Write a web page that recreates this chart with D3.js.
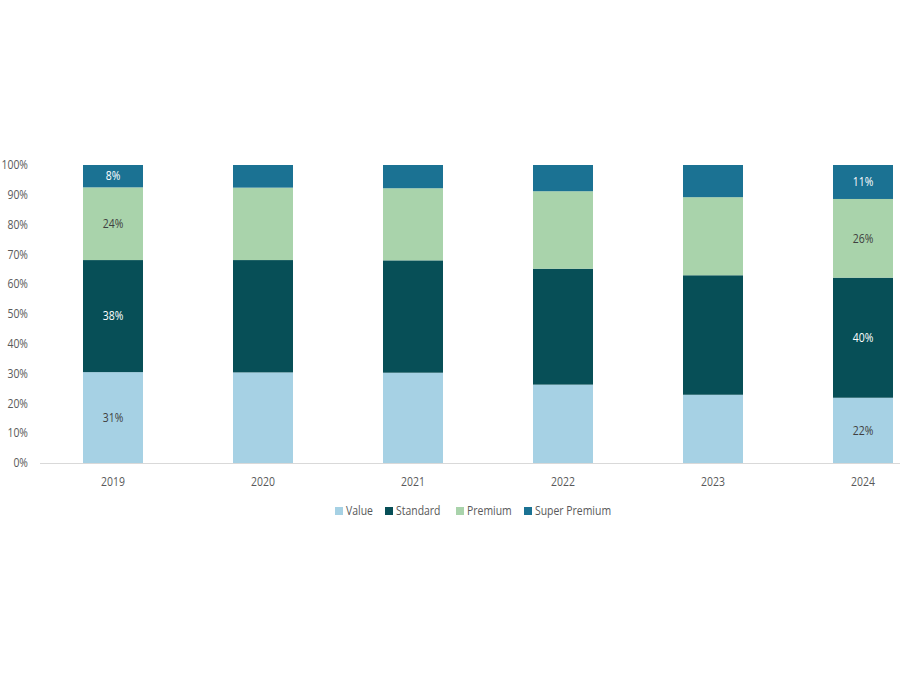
<!DOCTYPE html>
<html>
<head>
<meta charset="utf-8">
<script src="https://cdn.jsdelivr.net/npm/d3@7"></script>
<style>
  body { margin: 0; background: #fff; }
  svg { font-family: "Open Sans", sans-serif; }
</style>
</head>
<body>
<svg></svg>
<script>
const years = ["2019", "2020", "2021", "2022", "2023", "2024"]
const segments = ["Value", "Standard", "Premium", "Super Premium"]
const value = [30.5, 30.4, 30.3, 26.3, 22.9, 21.9]
const standard = [37.6, 37.7, 37.7, 38.9, 40.1, 40.3]
const premium = [24.4, 24.3, 24.2, 26.0, 26.2, 26.4]
const superPremium = [7.5, 7.6, 7.8, 8.8, 10.8, 11.4]
const labelledYears = ["2019", "2024"]
const yTicks = [0, 10, 20, 30, 40, 50, 60, 70, 80, 90, 100]

const width = 900
const height = 675
const squeeze = 0.87  // the text in the original is a bit narrower

const colors = {
  "Value": "#a6d1e4",
  "Standard": "#074f57",
  "Premium": "#a9d3ab",
  "Super Premium": "#1b7293"
}
const labelColors = {
  "Value": "#404040",
  "Standard": "#ffffff",
  "Premium": "#404040",
  "Super Premium": "#ffffff"
}

const table = years.map((y, i) => ({
  year: y,
  "Value": value[i],
  "Standard": standard[i],
  "Premium": premium[i],
  "Super Premium": superPremium[i]
}))

const svg = d3.select('svg')
  .attr('width', width)
  .attr('height', height)

const x = d3.scaleBand()
  .domain(years)
  .range([38, 938])
  .paddingInner(0.6)
  .paddingOuter(0.3)

const y = d3.scaleLinear()
  .domain([0, 100])
  .range([463, 165])

const stack = d3.stack().keys(segments)
const series = stack(table)

const place = (px, py) => `translate(${px},${py}) scale(${squeeze},1)`

// y axis labels
svg.append('g')
  .selectAll('text')
  .data(yTicks)
  .enter().append('text')
    .attr('transform', d => place(28, y(d)))
    .attr('dy', '0.35em')
    .attr('text-anchor', 'end')
    .attr('font-size', 12)
    .attr('fill', '#595959')
    .text(d => d + '%')

const groups = svg.append('g')
  .selectAll('g')
  .data(series)
  .enter().append('g')
    .attr('fill', d => colors[d.key])

groups.selectAll('rect')
  .data(d => d)
  .enter().append('rect')
    .attr('x', d => x(d.data.year))
    .attr('width', x.bandwidth())
    .attr('y', d => y(d[1]))
    .attr('height', d => y(d[0]) - y(d[1]))

// labels on first and last bar
groups.each(function(s) {
  d3.select(this).selectAll('text')
    .data(s.filter(d => labelledYears.includes(d.data.year)))
    .enter().append('text')
      .attr('transform', d => place(x(d.data.year) + x.bandwidth() / 2, y((d[0] + d[1]) / 2)))
      .attr('dy', '0.35em')
      .attr('text-anchor', 'middle')
      .attr('font-size', 12)
      .attr('fill', labelColors[s.key])
      .text(d => Math.round(d[1] - d[0]) + '%')
})

// x axis line
svg.append('line')
  .attr('x1', 40)
  .attr('x2', width)
  .attr('y1', y(0) + 0.5)
  .attr('y2', y(0) + 0.5)
  .attr('stroke', '#d9d9d9')
  .attr('stroke-width', 1)

svg.append('g')
  .selectAll('text')
  .data(years)
  .enter().append('text')
    .attr('transform', d => place(x(d) + x.bandwidth() / 2, 482))
    .attr('dy', '0.35em')
    .attr('text-anchor', 'middle')
    .attr('font-size', 12)
    .attr('fill', '#595959')
    .text(d => d)

// legend
const legendX = [335, 385, 456, 524]
const legend = svg.append('g')
  .selectAll('g')
  .data(segments)
  .enter().append('g')
    .attr('transform', (d, i) => `translate(${legendX[i]},511)`)

legend.append('rect')
  .attr('x', 0)
  .attr('y', -4)
  .attr('width', 8)
  .attr('height', 8)
  .attr('fill', d => colors[d])

legend.append('text')
  .attr('transform', place(11, 0))
  .attr('dy', '0.35em')
  .attr('font-size', 12)
  .attr('fill', '#595959')
  .text(d => d)
</script>
</body>
</html>
